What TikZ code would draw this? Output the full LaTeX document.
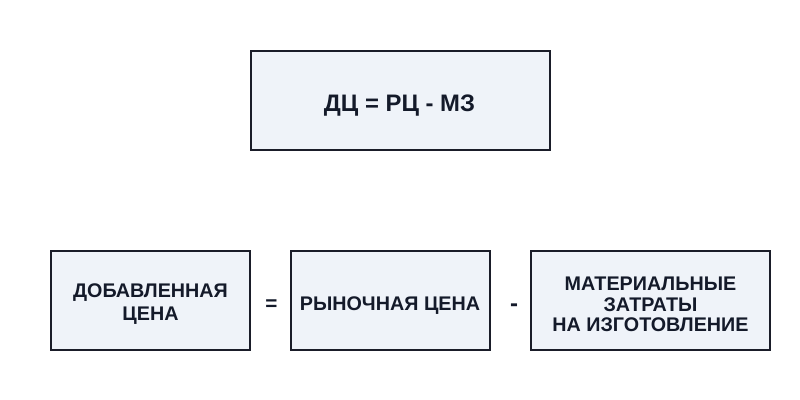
\documentclass[tikz,border=0pt]{standalone}
\usepackage{fontspec}
\setmainfont{Liberation Sans}
\definecolor{boxfill}{HTML}{EFF3F9}
\definecolor{boxline}{HTML}{1A1D29}
\definecolor{txt}{HTML}{141A2A}
\begin{document}
\begin{tikzpicture}[x=0.75pt,y=-0.75pt,
  box/.style={draw=boxline,fill=boxfill,line width=1.5pt,inner sep=0pt,minimum height=99*0.75pt},
  lbl/.style={text=txt,inner sep=0pt,align=center,font=\bfseries\fontsize{14.8}{15.3}\selectfont},
  op/.style={text=txt,inner sep=0pt,anchor=base}]
\useasboundingbox (0,0) rectangle (800,400);
\node[box,minimum width=299*0.75pt] (top) at (400.5,100.5) {};
\node[box,minimum width=199*0.75pt] (dc) at (150.5,300.5) {};
\node[box,minimum width=199*0.75pt] (rc) at (390.5,300.5) {};
\node[box,minimum width=239*0.75pt] (mz) at (650.5,300.5) {};
\node[lbl,anchor=base,font=\bfseries\fontsize{17.9}{20}\selectfont] (toptxt) at (399.5,111.5) {ДЦ = РЦ - МЗ};
\node[lbl,font=\bfseries\fontsize{14.8}{17.3}\selectfont] (dctxt) at ([yshift=-3.5*0.75pt]dc.center) {ДОБАВЛЕННАЯ\\ЦЕНА};
\node[lbl,anchor=base] (rctxt) at (390,310) {РЫНОЧНАЯ ЦЕНА};
\node[lbl] (mztxt) at ([yshift=-4*0.75pt]mz.center) {МАТЕРИАЛЬНЫЕ\\ЗАТРАТЫ\\НА ИЗГОТОВЛЕНИЕ};
\node[op,font=\bfseries\fontsize{15.5}{16}\selectfont] (eq) at (271.5,310) {=};
\node[op,font=\bfseries\fontsize{18}{19}\selectfont] (mi) at (514,311) {-};
\end{tikzpicture}
\end{document}
